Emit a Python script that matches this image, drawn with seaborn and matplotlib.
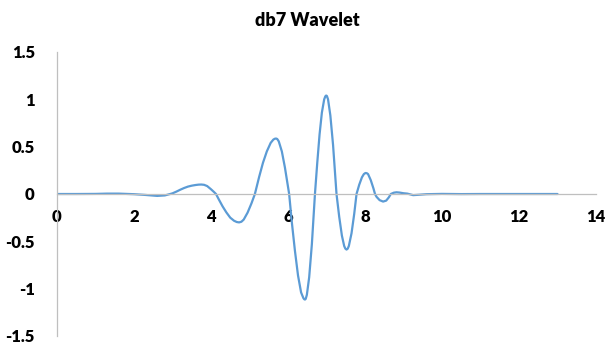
import matplotlib
matplotlib.use("Agg")
import matplotlib.pyplot as plt
import seaborn as sns
import pandas as pd

# db7 wavelet function psi(t), sampled on its support [0, 13]
t_values = [0, 0.5, 1.0, 1.3, 1.6, 2.0, 2.3, 2.6, 2.8, 2.94, 3.0, 3.1, 3.2, 3.3, 3.4, 3.5, 3.6, 3.68, 3.75,
            3.82, 3.9, 4.0, 4.07, 4.13, 4.2, 4.3, 4.4, 4.5, 4.6, 4.67, 4.73, 4.79, 4.85, 4.95, 5.05, 5.14,
            5.25, 5.35, 5.45, 5.55, 5.62, 5.66, 5.69, 5.72, 5.76, 5.84, 5.92, 6.03,
            6.1, 6.18, 6.26, 6.34, 6.40, 6.42, 6.44, 6.46, 6.49, 6.55, 6.62, 6.70,
            6.76, 6.82, 6.88, 6.94, 6.97, 6.99, 7.01, 7.04, 7.10, 7.17, 7.26,
            7.33, 7.40, 7.46, 7.49, 7.52, 7.55, 7.58, 7.65, 7.72, 7.78,
            7.85, 7.92, 7.97, 8.0, 8.02, 8.05, 8.08, 8.15, 8.22, 8.26, 8.3, 8.38, 8.47, 8.55,
            8.62, 8.67, 8.75, 8.82, 8.9, 9.0, 9.1, 9.25, 9.4, 9.6,
            10, 10.5, 11, 11.5, 12, 12.5, 13]
psi_values = [0, 0.0, 0.001, 0.004, 0.004, -0.002, -0.01, -0.02, -0.015, 0.0, 0.007, 0.025, 0.045, 0.063, 0.078, 0.088, 0.095, 0.099, 0.10,
              0.097, 0.084, 0.05, 0.024, 0.0, -0.055, -0.13, -0.195, -0.25, -0.283, -0.296, -0.30, -0.293, -0.27, -0.197, -0.10, 0.0,
              0.18, 0.33, 0.45, 0.54, 0.575, 0.584, 0.586, 0.581, 0.556, 0.45, 0.28, 0.0,
              -0.30, -0.60, -0.86, -1.04, -1.10, -1.111, -1.115, -1.108, -1.065, -0.88, -0.53, 0.0,
              0.33, 0.63, 0.86, 1.0, 1.032, 1.04, 1.036, 1.0, 0.83, 0.52, 0.0,
              -0.24, -0.44, -0.55, -0.577, -0.587, -0.578, -0.55, -0.415, -0.21, 0.0,
              0.098, 0.176, 0.21, 0.219, 0.222, 0.219, 0.21, 0.146, 0.058, 0.0, -0.03, -0.065, -0.08, -0.07,
              -0.035, 0.0, 0.014, 0.018, 0.015, 0.008, 0.004, -0.012, -0.008, -0.002,
              0.001, -0.001, 0.0, 0.0, 0.0, 0.0, 0.0]

x_ticks = [0, 2, 4, 6, 8, 10, 12, 14]
y_ticks = [-1.5, -1, -0.5, 0, 0.5, 1, 1.5]
y_tick_labels = ["-1.5", "-1", "-0.5", "0", "0.5", "1", "1.5"]

df = pd.DataFrame({"t": t_values, "psi": psi_values})

sns.set_theme(style="white")
plt.rcParams["font.family"] = ["Lato", "DejaVu Sans"]

fig = plt.figure(figsize=(6.08, 3.47), dpi=100)
ax = fig.add_axes([57 / 608, 1 - 336 / 347, (596 - 57) / 608, (336 - 52) / 347])

sns.lineplot(data=df, x="t", y="psi", ax=ax, color="#5B9BD5", linewidth=1.6, sort=False)

ax.set_xlim(0, 14)
ax.set_ylim(-1.5, 1.5)
ax.set_xlabel("")
ax.set_ylabel("")

ax.spines["top"].set_visible(False)
ax.spines["right"].set_visible(False)
ax.spines["bottom"].set_position(("data", 0))
for side in ("left", "bottom"):
    ax.spines[side].set_color("#BFBFBF")
    ax.spines[side].set_linewidth(0.9)

ax.set_xticks(x_ticks)
ax.set_xticklabels([str(v) for v in x_ticks])
ax.set_yticks(y_ticks)
ax.set_yticklabels(y_tick_labels)
ax.tick_params(axis="x", length=0, pad=11, labelsize=12, labelcolor="#000000")
ax.tick_params(axis="y", length=0, pad=16, labelsize=12, labelcolor="#000000")
for lab in ax.get_xticklabels() + ax.get_yticklabels():
    lab.set_fontweight("heavy")

fig.text(0.505, 1 - 20.5 / 347, "db7 Wavelet", ha="center", va="center",
         fontsize=13, fontweight="heavy", color="#000000")

fig.savefig("out.png", dpi=100, facecolor="white")
